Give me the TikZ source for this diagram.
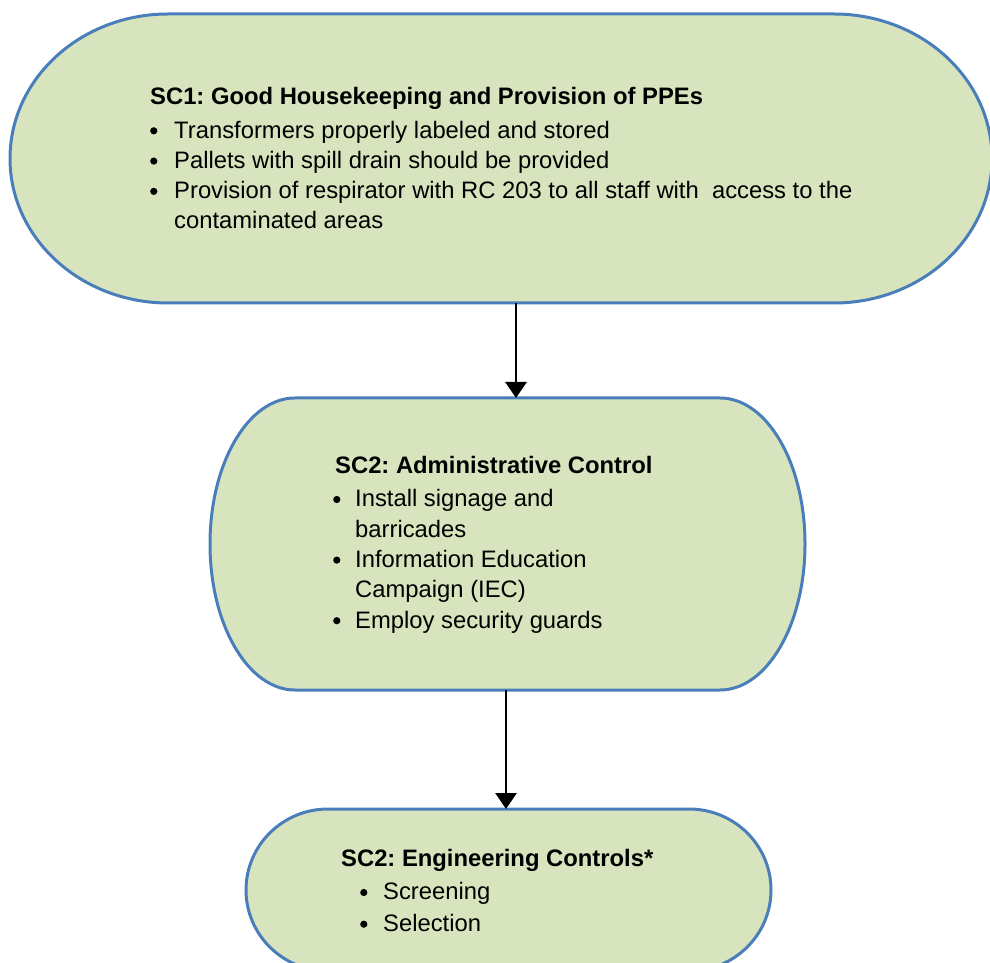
\documentclass[tikz,border=0pt]{standalone}
\usepackage{fontspec}
\setmainfont{Liberation Sans}
\usetikzlibrary{calc,arrows.meta}
\definecolor{capfill}{HTML}{D7E4BD}
\definecolor{capline}{HTML}{4A7EBB}
\newcommand\dotmark{\tikz[baseline=0pt]\fill (0pt,7.3pt) circle (3.6pt);}
\newcommand\bl[2]{\hspace*{#1pt}\makebox[#2pt][l]{\dotmark}}
\newcommand\capsule[2]{%
  \draw[capsulepath] let \p1=(#1.north west), \p2=(#1.south east) in
    (\x1+#2pt,\y1) -- (\x2-#2pt,\y1)
    arc[start angle=90, end angle=-90, x radius=#2pt, y radius={(\y1-\y2)/2}]
    -- (\x1+#2pt,\y2)
    arc[start angle=270, end angle=90, x radius=#2pt, y radius={(\y1-\y2)/2}] -- cycle;}
\tikzset{
  holder/.style={draw=none, fill=none, inner sep=0pt, outer sep=0pt},
  capsulepath/.style={fill=capfill, draw=capline, line width=3pt},
  blocktext/.style={anchor=base west, align=left, inner sep=0pt,
    font=\frenchspacing\fontsize{23.8}{30.3}\selectfont},
  arr/.style={line width=2.9pt, -{Triangle[width=21pt,length=16pt]}}
}
\begin{document}
\begin{tikzpicture}[x=1pt,y=1pt]
\useasboundingbox (0,0) rectangle (990,962);
% shapes
\node[holder, minimum width=982pt, minimum height=289pt] (s1) at (501,803.5) {};
\node[holder, minimum width=595pt, minimum height=292pt] (s2) at (507.5,418) {};
\node[holder, minimum width=525pt, minimum height=162pt] (s3) at (508.5,72) {};
\capsule{s1}{158}
\capsule{s2}{85}
\capsule{s3}{82}
% texts (anchored at the baseline of the last line)
\node[blocktext] (t1) at (150,733) {{\bfseries SC1: Good Housekeeping and Provision of PPEs}\\[3.7pt]
\bl{0}{24}Transformers properly labeled and stored\\
\bl{0}{24}Pallets with spill drain should be provided\\
\bl{0}{24}Provision of respirator with RC 203 to all staff with~ access to the\\
\hspace*{24pt}contaminated areas};
\node[blocktext] (t2) at (335,334) {{\bfseries SC2: Administrative Control}\\[3pt]
\bl{-2}{22}Install signage and\\
\hspace*{20pt}barricades\\
\bl{-2}{22}Information Education\\
\hspace*{20pt}Campaign (IEC)\\
\bl{-2}{22}Employ security guards};
\node[blocktext] (t3) at (341,30.5) {{\bfseries SC2: Engineering Controls*}\\[2.7pt]
\bl{19}{23}Screening\\[1.4pt]
\bl{19}{23}Selection};
% connectors
\draw[arr] ([xshift=15pt]s1.south) -- ([xshift=8.5pt]s2.north);
\draw[arr] ([xshift=-1.5pt]s2.south) -- ([xshift=-2.5pt]s3.north);
\end{tikzpicture}
\end{document}
